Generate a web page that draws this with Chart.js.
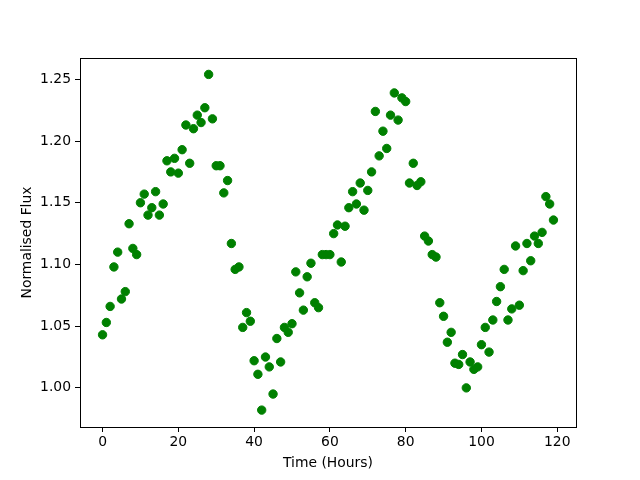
<!DOCTYPE html>
<html>
<head>
<meta charset="utf-8">
<script src="https://cdn.jsdelivr.net/npm/chart.js@4/dist/chart.umd.min.js"></script>
<style>
  body { margin: 0; background: #fff; }
  #wrap { width: 640px; height: 480px; }
</style>
</head>
<body>
<div id="wrap"><canvas id="chart" width="640" height="480"></canvas></div>
<script>
// time of each measurement, hours
const hours = [
  0, 1, 2, 3, 4, 5, 6, 7, 8, 9, 10, 11, 12, 13, 14, 15, 16, 17, 18, 19,
  20, 21, 22, 23, 24, 25, 26, 27, 28, 29, 30, 31, 32, 33, 34, 35, 36, 37, 38, 39,
  40, 41, 42, 43, 44, 45, 46, 47, 48, 49, 50, 51, 52, 53, 54, 55, 56, 57, 58, 59,
  60, 61, 62, 63, 64, 65, 66, 67, 68, 69, 70, 71, 72, 73, 74, 75, 76, 77, 78, 79,
  80, 81, 82, 83, 84, 85, 86, 87, 88, 89, 90, 91, 92, 93, 94, 95, 96, 97, 98, 99,
  100, 101, 102, 103, 104, 105, 106, 107, 108, 109, 110, 111, 112, 113, 114, 115, 116, 117, 118, 119
];

// normalised flux at each hour
const flux = [
  1.043, 1.053, 1.066, 1.098, 1.110, 1.072, 1.078, 1.133, 1.113, 1.108,
  1.150, 1.157, 1.140, 1.146, 1.159, 1.140, 1.149, 1.184, 1.175, 1.186,
  1.174, 1.193, 1.213, 1.182, 1.210, 1.221, 1.215, 1.227, 1.254, 1.218,
  1.180, 1.180, 1.158, 1.168, 1.117, 1.096, 1.098, 1.049, 1.061, 1.054,
  1.022, 1.011, 0.982, 1.025, 1.017, 0.995, 1.040, 1.021, 1.049, 1.045,
  1.052, 1.094, 1.077, 1.063, 1.090, 1.101, 1.069, 1.065, 1.108, 1.108,
  1.108, 1.125, 1.132, 1.102, 1.131, 1.146, 1.159, 1.149, 1.166, 1.144,
  1.160, 1.175, 1.224, 1.188, 1.208, 1.194, 1.221, 1.239, 1.217, 1.235,
  1.232, 1.166, 1.182, 1.164, 1.167, 1.123, 1.119, 1.108, 1.106, 1.069,
  1.058, 1.037, 1.045, 1.020, 1.019, 1.027, 1.000, 1.021, 1.015, 1.017,
  1.035, 1.049, 1.029, 1.055, 1.070, 1.082, 1.096, 1.055, 1.064, 1.115,
  1.067, 1.095, 1.117, 1.103, 1.123, 1.117, 1.126, 1.155, 1.149, 1.136
];

const xTicks = [0, 20, 40, 60, 80, 100, 120];
const yTicks = [1.00, 1.05, 1.10, 1.15, 1.20, 1.25];

const points = hours.map((h, i) => ({ x: h, y: flux[i] }));

// black box round the plot area, like matplotlib spines
const frame = {
  id: 'frame',
  afterDatasetsDraw(chart) {
    const a = chart.chartArea;
    const ctx = chart.ctx;
    ctx.save();
    ctx.strokeStyle = '#000';
    ctx.lineWidth = 1;
    ctx.strokeRect(Math.round(a.left) + 0.5, Math.round(a.top) + 0.5,
      Math.round(a.right - a.left), Math.round(a.bottom - a.top));
    ctx.restore();
  }
};

const font = { family: 'DejaVu Sans', size: 13.9 };

new Chart(document.getElementById('chart').getContext('2d'), {
  type: 'scatter',
  data: {
    datasets: [{
      data: points,
      backgroundColor: '#008000',
      borderColor: '#008000',
      pointRadius: 4.2,
      pointBorderWidth: 1,
      pointHoverRadius: 4.2
    }]
  },
  options: {
    responsive: false,
    animation: false,
    events: [],
    layout: { padding: { left: 0, right: 64, top: 58, bottom: 0 } },
    plugins: {
      legend: { display: false },
      tooltip: { enabled: false }
    },
    scales: {
      x: {
        type: 'linear',
        min: -5.95,
        max: 124.95,
        afterBuildTicks: s => { s.ticks = xTicks.map(v => ({ value: v })); },
        afterFit: s => { s.height = 53; },
        grid: { drawOnChartArea: false, drawTicks: true, tickLength: 5, color: '#000' },
        border: { display: true, color: '#000' },
        ticks: { color: '#000', font: font, padding: 2, maxRotation: 0,
          callback: v => String(v) },
        title: { display: true, text: 'Time (Hours)', color: '#000', font: font,
          padding: { top: 4, bottom: 8.6 } }
      },
      y: {
        type: 'linear',
        min: 0.9683,
        max: 1.2673,
        afterBuildTicks: s => { s.ticks = yTicks.map(v => ({ value: v })); },
        afterFit: s => { s.width = 80; },
        grid: { drawOnChartArea: false, drawTicks: true, tickLength: 5, color: '#000' },
        border: { display: true, color: '#000' },
        ticks: { color: '#000', font: font, padding: 4,
          callback: v => Number(v).toFixed(2) },
        title: { display: true, text: 'Normalised Flux', color: '#000', font: font,
          padding: { top: 18.6, bottom: 4 } }
      }
    }
  },
  plugins: [frame]
});
</script>
</body>
</html>
